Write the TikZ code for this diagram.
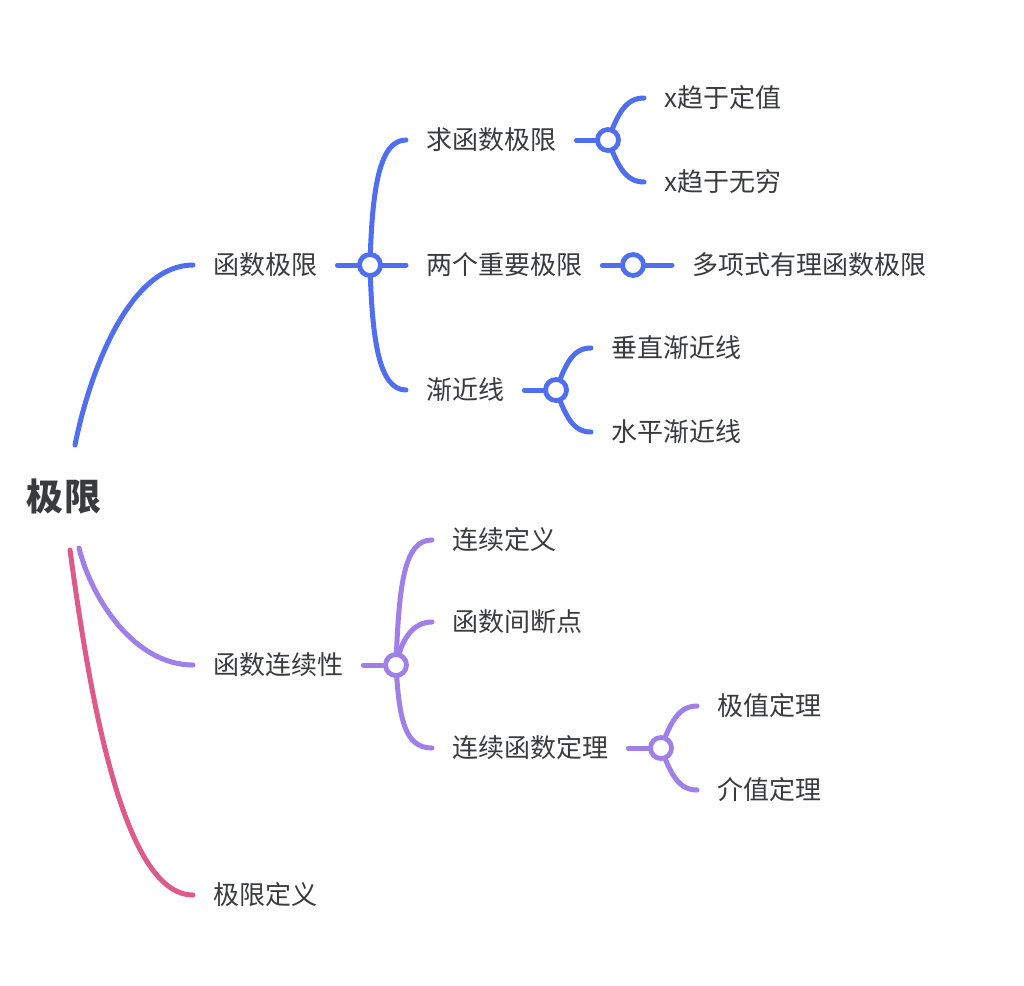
\documentclass[tikz,border=0pt]{standalone}
\usepackage{fontspec}
\setmainfont{Noto Sans CJK SC}
\definecolor{cblue}{HTML}{4F6EF0}
\definecolor{cpurple}{HTML}{9E80E8}
\definecolor{cpink}{HTML}{DE5A8B}
\definecolor{ctext}{HTML}{3A3B3D}
\begin{document}
\begin{tikzpicture}[x=1pt,y=-1pt,
  lbl/.style={inner xsep=20pt,inner ysep=0pt,anchor=west,text=ctext,font=\fontsize{26}{30}\selectfont},
  hub/.style={circle,draw=#1,fill=white,line width=4.8pt,minimum size=21pt,inner sep=0pt},
  conn/.style={draw=#1,line width=5pt,line cap=round}]
\useasboundingbox[fill=white] (0,0) rectangle (1024,985);

% root
\node[text=ctext,font=\fontsize{37}{40}\selectfont\bfseries,inner sep=0pt] (root) at (64,497) {极限};
\coordinate (rb) at (75,445);
\coordinate (rp) at (79,548);
\coordinate (rk) at (70,550);

% level 1
\node[lbl] (fl) at (193,265) {函数极限};
\node[lbl] (fc) at (193,665) {函数连续性};
\node[lbl] (ld) at (193,895) {极限定义};

% blue subtree
\node[lbl] (qf) at (406,140) {求函数极限};
\node[lbl] (lz) at (406,265) {两个重要极限};
\node[lbl] (jj) at (406,390) {渐近线};
\node[lbl] (xd) at (644,98) {x趋于定值};
\node[lbl] (xw) at (644,182) {x趋于无穷};
\node[lbl] (dx) at (672,265) {多项式有理函数极限};
\node[lbl] (cz) at (591,348) {垂直渐近线};
\node[lbl] (sp) at (591,432) {水平渐近线};

% purple subtree
\node[lbl] (lx) at (432,540) {连续定义};
\node[lbl] (jd) at (432,622) {函数间断点};
\node[lbl] (lh) at (432,748) {连续函数定理};
\node[lbl] (jz) at (697,706) {极值定理};
\node[lbl] (jie) at (697,790) {介值定理};

% hub positions
\coordinate (h1) at (370,265);
\coordinate (h2) at (608,140);
\coordinate (h3) at (633,265);
\coordinate (h4) at (556,390);
\coordinate (h5) at (396,665);
\coordinate (h6) at (661,748);

% main branches
\draw[conn=cblue] (rb) .. controls (90,370) and (130,265) .. (fl.west);
\draw[conn=cpurple] (rp) .. controls (92,600) and (135,665) .. (fc.west);
\draw[conn=cpink] (rk) .. controls (89,690) and (122,895) .. (ld.west);

% blue
\draw[conn=cblue] (fl.east) -- (h1);
\draw[conn=cblue] (h1) -- (lz.west);
\draw[conn=cblue] (h1) .. controls +(2,-75) and +(-27,0) .. (qf.west);
\draw[conn=cblue] (h1) .. controls +(2,75) and +(-27,0) .. (jj.west);
\draw[conn=cblue] (qf.east) -- (h2);
\draw[conn=cblue] (h2) .. controls +(10,-27) and +(-18,0) .. (xd.west);
\draw[conn=cblue] (h2) .. controls +(10,27) and +(-18,0) .. (xw.west);
\draw[conn=cblue] (lz.east) -- (h3) -- (dx.west);
\draw[conn=cblue] (jj.east) -- (h4);
\draw[conn=cblue] (h4) .. controls +(10,-27) and +(-18,0) .. (cz.west);
\draw[conn=cblue] (h4) .. controls +(10,27) and +(-18,0) .. (sp.west);

% purple
\draw[conn=cpurple] (fc.east) -- (h5);
\draw[conn=cpurple] (h5) .. controls +(3,-85) and +(-27,0) .. (lx.west);
\draw[conn=cpurple] (h5) .. controls +(6,-28) and +(-18,0) .. (jd.west);
\draw[conn=cpurple] (h5) .. controls +(3,55) and +(-27,0) .. (lh.west);
\draw[conn=cpurple] (lh.east) -- (h6);
\draw[conn=cpurple] (h6) .. controls +(10,-27) and +(-18,0) .. (jz.west);
\draw[conn=cpurple] (h6) .. controls +(10,27) and +(-18,0) .. (jie.west);

% hubs
\node[hub=cblue] (n1) at (h1) {};
\node[hub=cblue] (n2) at (h2) {};
\node[hub=cblue] (n3) at (h3) {};
\node[hub=cblue] (n4) at (h4) {};
\node[hub=cpurple] (n5) at (h5) {};
\node[hub=cpurple] (n6) at (h6) {};
\end{tikzpicture}
\end{document}
